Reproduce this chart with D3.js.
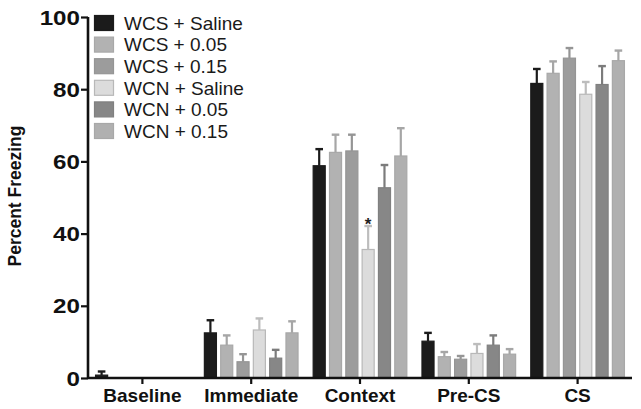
<!DOCTYPE html>
<html><head><meta charset="utf-8">
<script src="https://cdn.jsdelivr.net/npm/d3@7"></script>
<style>body{margin:0;background:#fff}svg{display:block}</style>
</head><body>
<svg id="c" width="641" height="409"></svg>
<script>
const categories = ["Baseline","Immediate","Context","Pre-CS","CS"];
const seriesNames = ["WCS + Saline","WCS + 0.05","WCS + 0.15","WCN + Saline","WCN + 0.05","WCN + 0.15"];
const wcsSaline  = [0.8, 12.5, 58.8, 10.2, 81.6];
const wcs005     = [0, 9.1, 62.5, 5.9, 84.4];
const wcs015     = [0, 4.5, 62.9, 5.2, 88.6];
const wcnSaline  = [0, 13.3, 35.6, 6.8, 78.6];
const wcn005     = [0, 5.5, 52.7, 9.1, 81.3];
const wcn015     = [0, 12.5, 61.5, 6.6, 87.9];
const errWcsSaline = [1.0, 3.5, 4.6, 2.3, 4.0];
const errWcs005    = [0, 2.7, 4.9, 1.3, 3.3];
const errWcs015    = [0, 2.1, 4.5, 0.9, 2.8];
const errWcnSaline = [0, 3.2, 6.5, 2.6, 3.4];
const errWcn005    = [0, 2.3, 6.3, 2.7, 5.1];
const errWcn015    = [0, 3.2, 7.7, 1.4, 2.8];
const yTicks = [0,20,40,60,80,100];
const significance = [{cat:"Context", series:"WCN + Saline", label:"*"}];

const values = [wcsSaline, wcs005, wcs015, wcnSaline, wcn005, wcn015];
const errors = [errWcsSaline, errWcs005, errWcs015, errWcnSaline, errWcn005, errWcn015];
const fills   = ["#1b1b1b","#b2b2b2","#9c9c9c","#dcdcdc","#878787","#b0b0b0"];
const strokes = ["#1b1b1b","#a8a8a8","#959595","#b8b8b8","#808080","#a8a8a8"];
const errCol  = ["#1b1b1b","#a6a6a6","#959595","#bdbdbd","#7c7c7c","#a6a6a6"];
const FONT = "Liberation Sans, Arial, Helvetica, sans-serif";

const svg = d3.select("#c");
const x0 = d3.scaleBand().domain(categories).range([88, 632]).paddingInner(0.1).paddingOuter(0.05);
const x1 = d3.scaleBand().domain(seriesNames).range([0, x0.bandwidth()]).paddingInner(0.2).paddingOuter(0.1);
const y = d3.scaleLinear().domain([0,100]).range([378, 17]);

const data = [];
seriesNames.forEach((s,i)=>categories.forEach((c,j)=>data.push({s,i,c,v:values[i][j],e:errors[i][j]})));

const g = svg.append("g");
g.selectAll("rect.bar").data(data.filter(d=>d.v>0)).join("rect")
  .attr("x", d=>x0(d.c)+x1(d.s)+0.5)
  .attr("y", d=>y(d.v))
  .attr("width", x1.bandwidth()-1)
  .attr("height", d=>y(0)-y(d.v))
  .attr("fill", d=>fills[d.i])
  .attr("stroke", d=>strokes[d.i])
  .attr("stroke-width", 1.2);
const eb = g.selectAll("g.err").data(data.filter(d=>d.e>0)).join("g")
  .attr("stroke", d=>errCol[d.i]).attr("stroke-width", 2.2);
eb.append("line")
  .attr("x1", d=>x0(d.c)+x1(d.s)+x1.bandwidth()/2)
  .attr("x2", d=>x0(d.c)+x1(d.s)+x1.bandwidth()/2)
  .attr("y1", d=>y(d.v)).attr("y2", d=>y(d.v+d.e));
eb.append("line")
  .attr("x1", d=>x0(d.c)+x1(d.s)+x1.bandwidth()/2-3.8)
  .attr("x2", d=>x0(d.c)+x1(d.s)+x1.bandwidth()/2+3.8)
  .attr("y1", d=>y(d.v+d.e)).attr("y2", d=>y(d.v+d.e))
  .attr("stroke-width", 2.4);

significance.forEach(sg=>{
  const i = seriesNames.indexOf(sg.series), j = categories.indexOf(sg.cat);
  svg.append("text").attr("x", x0(sg.cat)+x1(sg.series)+x1.bandwidth()/2)
    .attr("y", y(values[i][j]+errors[i][j])+4)
    .attr("text-anchor","middle").attr("font-family",FONT).attr("font-weight","bold")
    .attr("font-size",17).attr("fill","#222").text(sg.label);
});

const yAxis = svg.append("g").attr("transform","translate(88,0)")
  .call(d3.axisLeft(y).tickValues(yTicks).tickSize(7).tickPadding(2));
yAxis.select(".domain").attr("stroke","#111").attr("stroke-width",2.6).attr("d","M0,17V378");
yAxis.selectAll(".tick line").attr("stroke","#111").attr("stroke-width",2.2);
yAxis.selectAll(".tick text").attr("font-family",FONT)
  .attr("font-weight","bold").attr("font-size",19.5).attr("fill","#111")
  .attr("text-anchor","end").attr("x",null)
  .attr("transform","translate(-8,0) scale(1.24,1)")
  .attr("dy","0.36em");

const xAxis = svg.append("g").attr("transform","translate(0,378)")
  .call(d3.axisBottom(x0).tickSize(6).tickPadding(5));
xAxis.select(".domain").attr("stroke","#111").attr("stroke-width",2.6).attr("d","M88,0H632");
xAxis.selectAll(".tick line").attr("stroke","#111").attr("stroke-width",2.2);
xAxis.selectAll(".tick text").attr("font-family",FONT)
  .attr("font-weight","bold").attr("font-size",19).attr("fill","#111")
  .attr("y",23.5).attr("dy",null);

svg.append("text").attr("transform","translate(21,196) rotate(-90)")
  .attr("text-anchor","middle").attr("font-family",FONT)
  .attr("font-weight","bold").attr("font-size",17.5).attr("fill","#111").text("Percent Freezing");

const lg = svg.append("g").attr("transform","translate(94,15)");
const row = lg.selectAll("g").data(seriesNames).join("g").attr("transform",(d,i)=>`translate(0,${i*21.6})`);
row.append("rect").attr("x",0.5).attr("y",0.5).attr("width",19).attr("height",15)
  .attr("fill",(d,i)=>fills[i]).attr("stroke",(d,i)=>strokes[i]).attr("stroke-width",1.2);
row.append("text").attr("x",30).attr("y",14.7).attr("font-family",FONT)
  .attr("font-size",19).attr("fill","#1a1a1a").text(d=>d);
</script>
</body></html>
